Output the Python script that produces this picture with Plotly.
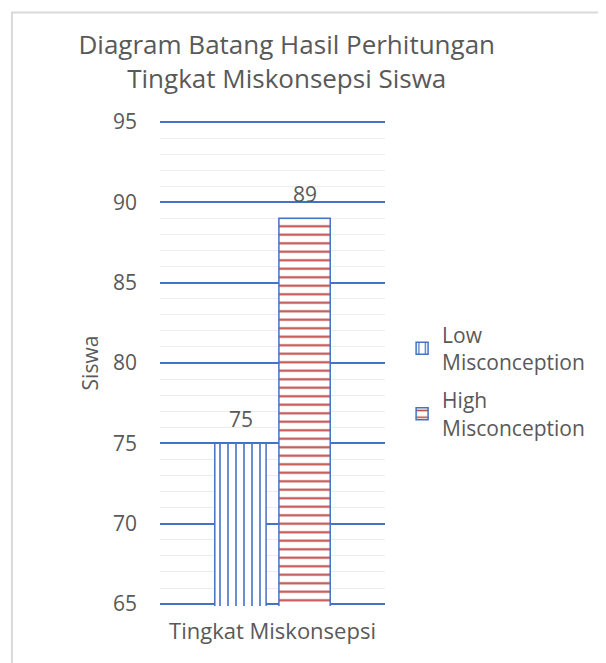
import plotly.graph_objects as go

categories = ["Tingkat Miskonsepsi"]
low_values = [75]
high_values = [89]
series_names = ["Low<br>Misconception", "High<br>Misconception"]
y_ticks = [65, 70, 75, 80, 85, 90, 95]

BLUE = "#4472C4"
RED = "#C0504D"
GREY = "#595959"
FONT = "Open Sans"

fig = go.Figure()

fig.add_trace(go.Bar(
    x=categories, y=low_values, name=series_names[0], legendgroup="low",
    marker=dict(color="white",
                line=dict(color=BLUE, width=1.5),
                pattern=dict(shape="|", fgcolor=BLUE, bgcolor="white",
                             size=8, solidity=0.2, fillmode="replace")),
))

fig.add_trace(go.Bar(
    x=categories, y=high_values, name=series_names[1], legendgroup="high",
    marker=dict(color="white",
                line=dict(color=BLUE, width=1.5),
                pattern=dict(shape="-", fgcolor=RED, bgcolor="white",
                             size=8.5, solidity=0.25, fillmode="replace")),
))

# data labels, a little higher above the bars than plotly's own outside text
for vals, dx in [(low_values, -32), (high_values, 32)]:
    for c, v in zip(categories, vals):
        fig.add_annotation(x=c, y=v, text=str(v), showarrow=False,
                           xshift=dx, yshift=8, yanchor="bottom",
                           font=dict(size=21, color=GREY, family=FONT))

# light grey frame round the whole chart
fig.add_shape(type="rect", xref="paper", yref="paper",
              x0=-0.658, x1=1.956, y0=-0.17, y1=1.221,
              line=dict(color="#D9D9D9", width=2), layer="below")

fig.update_layout(
    width=606, height=663,
    margin=dict(l=152, r=229, t=112, b=65, autoexpand=False),
    paper_bgcolor="white", plot_bgcolor="white",
    font=dict(family=FONT, color=GREY, size=20),
    title=dict(text="Diagram Batang Hasil Perhitungan<br>Tingkat Miskonsepsi Siswa",
               x=0.46, xanchor="center", y=0.93, yanchor="top",
               font=dict(size=26, color=GREY, family=FONT)),
    barmode="group", bargap=0.43, bargroupgap=0.2,
    legend=dict(x=1.076, xanchor="left", y=0.462, yanchor="middle",
                font=dict(size=21, color=GREY, family=FONT),
                traceorder="grouped", tracegroupgap=8,
                bgcolor="rgba(0,0,0,0)"),
)

fig.update_yaxes(
    range=[64.88, 95.12], tickvals=y_ticks, showline=False, zeroline=False,
    automargin=False,
    showgrid=True, gridcolor=BLUE, gridwidth=1.5,
    minor=dict(dtick=1, showgrid=True, gridcolor="#EDEDED", gridwidth=1),
    ticks="", ticklabelstandoff=22, tickfont=dict(size=21, color=GREY),
    title=dict(text="Siswa", standoff=8, font=dict(size=21, color=GREY)),
)
fig.update_xaxes(showline=False, ticks="", showgrid=False, automargin=False,
                 ticklabelstandoff=10, tickfont=dict(size=22, color=GREY))

fig.write_html("out.html")
